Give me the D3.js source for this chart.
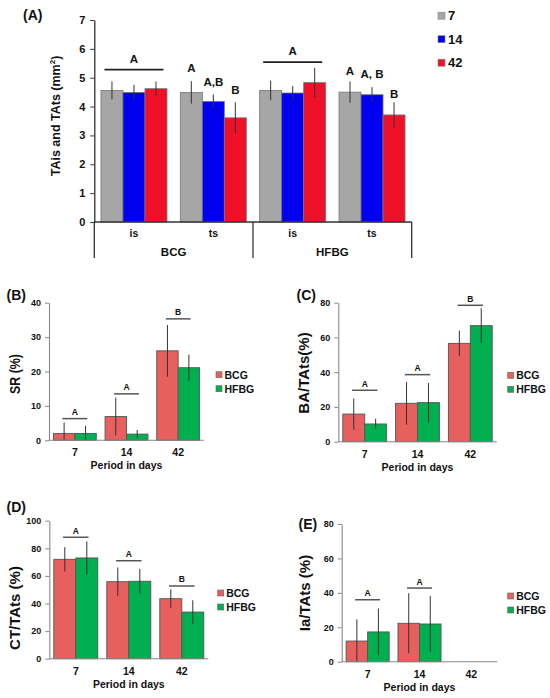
<!DOCTYPE html>
<html><head><meta charset="utf-8">
<script src="https://cdn.jsdelivr.net/npm/d3@7/dist/d3.min.js"></script>
<style>
body{margin:0;background:#fff;}
svg text{font-family:"Liberation Sans",Arial,sans-serif;font-weight:bold;fill:#111;}
</style></head>
<body><svg id="c" width="550" height="698"></svg>
<script>
// ---------- Panel A data ----------
const catA = ["BCG is", "BCG ts", "HFBG is", "HFBG ts"];
const subA = ["is", "ts", "is", "ts"];
const groupA = ["BCG", "HFBG"];
const seriesA = ["7", "14", "42"];
const meanA7 = [4.56, 4.49, 4.56, 4.50];
const sdA7 = [0.31, 0.39, 0.34, 0.37];
const meanA14 = [4.49, 4.18, 4.47, 4.41];
const sdA14 = [0.26, 0.24, 0.24, 0.26];
const meanA42 = [4.62, 3.61, 4.83, 3.71];
const sdA42 = [0.25, 0.54, 0.51, 0.44];
const ticksA = [0, 1, 2, 3, 4, 5, 6, 7];
// group significance (bar + letter) and individual letters
const sigBarA = [{cat: "BCG is", y: 5.28, label: "A"}, {cat: "HFBG is", y: 5.54, label: "A"}];
const sigLetA = [
  {cat: "BCG ts", s: "7", y: 5.34, label: "A"}, {cat: "BCG ts", s: "14", y: 4.85, label: "A,B"}, {cat: "BCG ts", s: "42", y: 4.57, label: "B"},
  {cat: "HFBG ts", s: "7", y: 5.24, label: "A"}, {cat: "HFBG ts", s: "14", y: 5.13, label: "A, B"}, {cat: "HFBG ts", s: "42", y: 4.43, label: "B"}
];

// ---------- Panels B-E data ----------
const periods = ["7", "14", "42"];
const groups = ["BCG", "HFBG"];
const srBCG = [2.0, 6.9, 26.0], srBCGsd = [3.2, 5.5, 7.5];
const srHFBG = [2.0, 1.8, 21.1], srHFBGsd = [2.2, 1.2, 3.8];
const srSig = [6.3, 13.5, 35.3], srLetters = ["A", "A", "B"];
const baBCG = [15.9, 22.1, 56.6], baBCGsd = [9.0, 12.3, 7.4];
const baHFBG = [10.2, 22.5, 66.8], baHFBGsd = [3.0, 11.3, 10.0];
const baSig = [29.6, 38.6, 78.5], baLetters = ["A", "A", "B"];
const ctBCG = [72.0, 55.8, 43.5], ctBCGsd = [8.8, 10.3, 6.8];
const ctHFBG = [73.0, 56.1, 33.8], ctHFBGsd = [12.0, 9.0, 8.6];
const ctSig = [88.0, 71.0, 52.7], ctLetters = ["A", "A", "B"];
const iaBCG = [12.0, 22.3, null], iaBCGsd = [12.6, 17.5, null];
const iaHFBG = [17.3, 21.9, null], iaHFBGsd = [13.6, 16.2, null];
const iaSig = [36.0, 42.8, null], iaLetters = ["A", "A", null];

const svg = d3.select("#c");
const colA = {"7": "#a6a6a6", "14": "#0000f0", "42": "#ee1128"};
const colG = {"BCG": "#e8605e", "HFBG": "#00b050"};

// ================= PANEL A =================
(function () {
  const x0 = 94.3, x1 = 411.7, yb = 222, yt = 20;
  const x = d3.scaleBand().domain(catA).range([x0, x1]).paddingInner(0.168).paddingOuter(0.084);
  const xs = d3.scaleBand().domain(seriesA).range([0, x.bandwidth()]);
  const y = d3.scaleLinear().domain([0, 7]).range([yb, yt]);
  const g = svg.append("g");
  const means = {"7": meanA7, "14": meanA14, "42": meanA42};
  const sds = {"7": sdA7, "14": sdA14, "42": sdA42};
  const data = [];
  catA.forEach((c, i) => seriesA.forEach(s => data.push({c, s, m: means[s][i], sd: sds[s][i]})));
  g.selectAll("rect.bar").data(data).join("rect")
    .attr("x", d => x(d.c) + xs(d.s)).attr("width", xs.bandwidth())
    .attr("y", d => y(d.m)).attr("height", d => y(0) - y(d.m))
    .attr("fill", d => colA[d.s]).attr("stroke", "#777").attr("stroke-width", 0.8);
  g.selectAll("line.err").data(data).join("line")
    .attr("x1", d => x(d.c) + xs(d.s) + xs.bandwidth() / 2).attr("x2", d => x(d.c) + xs(d.s) + xs.bandwidth() / 2)
    .attr("y1", d => y(d.m + d.sd)).attr("y2", d => y(d.m - d.sd))
    .attr("stroke", "#333").attr("stroke-width", 1);
  // y axis
  const ax = g.append("g").attr("transform", `translate(${x0},0)`)
    .call(d3.axisLeft(y).tickValues(ticksA).tickSize(4).tickSizeOuter(0).tickFormat(d3.format("d")));
  ax.select(".domain").attr("stroke", "#333").attr("stroke-width", 1.3);
  ax.selectAll(".tick line").attr("stroke", "#333");
  ax.selectAll(".tick text").attr("font-size", 11).attr("x", -9).style("font-family", "Liberation Sans, Arial").style("font-weight", "bold");
  // x axis line + separators
  g.append("line").attr("x1", x0).attr("x2", x1).attr("y1", yb).attr("y2", yb).attr("stroke", "#333").attr("stroke-width", 1.3);
  [x0, (x(catA[1]) + x.bandwidth() + x(catA[2])) / 2, x1].forEach(v =>
    g.append("line").attr("x1", v).attr("x2", v).attr("y1", yb).attr("y2", 258).attr("stroke", "#333").attr("stroke-width", 1.3));
  catA.forEach((c, i) => g.append("text").attr("x", x(c) + x.bandwidth() / 2).attr("y", 237)
    .attr("text-anchor", "middle").attr("font-size", 10.5).text(subA[i]));
  groupA.forEach((gr, i) => {
    const cx = (x(catA[2 * i]) + x(catA[2 * i + 1]) + x.bandwidth()) / 2;
    g.append("text").attr("x", cx).attr("y", 256).attr("text-anchor", "middle").attr("font-size", 11.5).text(gr);
  });
  // y title
  const t = g.append("text").attr("transform", "translate(60,116) rotate(-90)").attr("text-anchor", "middle").attr("font-size", 12.5);
  t.append("tspan").text("TAis and TAts (mm");
  t.append("tspan").attr("font-size", 8).attr("dy", -5).text("2");
  t.append("tspan").attr("dy", 5).text(")");
  // significance
  sigBarA.forEach(d => {
    g.append("line").attr("x1", x(d.cat) + 3.5).attr("x2", x(d.cat) + x.bandwidth() - 3.5)
      .attr("y1", y(d.y)).attr("y2", y(d.y)).attr("stroke", "#222").attr("stroke-width", 1.6);
    g.append("text").attr("x", x(d.cat) + x.bandwidth() / 2).attr("y", y(d.y) - 7)
      .attr("text-anchor", "middle").attr("font-size", 11.5).text(d.label);
  });
  sigLetA.forEach(d => g.append("text").attr("x", x(d.cat) + xs(d.s) + xs.bandwidth() / 2).attr("y", y(d.y) + 4)
    .attr("text-anchor", "middle").attr("font-size", 11.5).text(d.label));
  // legend
  seriesA.forEach((s, i) => {
    const ly = 15.7 + i * 23.5;
    g.append("rect").attr("x", 438).attr("y", ly - 3.5).attr("width", 7).attr("height", 7)
      .attr("fill", colA[s]).attr("stroke", "#888").attr("stroke-width", 0.6);
    g.append("text").attr("x", 448).attr("y", ly + 4.6).attr("font-size", 13).text(s);
  });
  g.append("text").attr("x", 23).attr("y", 20).attr("font-size", 14).text("(A)");
})();

// ================= PANELS B-E =================
function panel(o) {
  const g = svg.append("g");
  const x = d3.scaleBand().domain(periods).range([o.x0, o.x1]).paddingInner(0.17).paddingOuter(0.085);
  const xs = d3.scaleBand().domain(groups).range([0, x.bandwidth()]);
  const y = d3.scaleLinear().domain([0, o.max]).range([o.yb, o.yt]);
  const data = [];
  periods.forEach((p, i) => {
    data.push({p, gr: "BCG", m: o.bcg[i], sd: o.bcgSd[i]});
    data.push({p, gr: "HFBG", m: o.hfbg[i], sd: o.hfbgSd[i]});
  });
  const valid = data.filter(d => d.m != null);
  g.selectAll("rect").data(valid).join("rect")
    .attr("x", d => x(d.p) + xs(d.gr)).attr("width", xs.bandwidth())
    .attr("y", d => y(d.m)).attr("height", d => y(0) - y(d.m))
    .attr("fill", d => colG[d.gr]).attr("stroke", "#555").attr("stroke-width", 0.9);
  g.selectAll("line.err").data(valid).join("line").attr("class", "err")
    .attr("x1", d => x(d.p) + xs(d.gr) + xs.bandwidth() / 2).attr("x2", d => x(d.p) + xs(d.gr) + xs.bandwidth() / 2)
    .attr("y1", d => y(d.m + d.sd)).attr("y2", d => y(Math.max(0, d.m - d.sd)))
    .attr("stroke", "#333").attr("stroke-width", 1);
  const ax = g.append("g").attr("transform", `translate(${o.x0},0)`)
    .call(d3.axisLeft(y).tickValues(d3.range(0, o.max + 0.01, o.step)).tickSize(4).tickSizeOuter(0));
  ax.select(".domain").attr("stroke", "#888").attr("stroke-width", 1.1);
  ax.selectAll(".tick line").attr("stroke", "#888");
  ax.selectAll(".tick text").attr("font-size", 9).attr("x", -8).style("font-family", "Liberation Sans, Arial").style("font-weight", "bold");
  g.append("line").attr("x1", o.x0).attr("x2", o.x1).attr("y1", o.yb).attr("y2", o.yb).attr("stroke", "#888").attr("stroke-width", 1.1);
  periods.forEach(p => g.append("text").attr("x", x(p) + x.bandwidth() / 2).attr("y", o.yb + 16)
    .attr("text-anchor", "middle").attr("font-size", 10.5).text(p));
  g.append("text").attr("x", (o.x0 + o.x1) / 2).attr("y", o.yb + 29).attr("text-anchor", "middle").attr("font-size", 10.5).text("Period in days");
  // significance
  periods.forEach((p, i) => {
    if (o.sig[i] == null) return;
    const cx = x(p) + x.bandwidth() / 2, hw = x.step() * 0.24;
    g.append("line").attr("x1", cx - hw).attr("x2", cx + hw).attr("y1", y(o.sig[i])).attr("y2", y(o.sig[i]))
      .attr("stroke", "#555").attr("stroke-width", 1.5);
    g.append("text").attr("x", cx).attr("y", y(o.sig[i]) - 3.5).attr("text-anchor", "middle").attr("font-size", 8.5).text(o.letters[i]);
  });
  // legend
  groups.forEach((gr, i) => {
    const ly = o.ly + i * 14;
    g.append("rect").attr("x", o.lx).attr("y", ly - 3).attr("width", 6).attr("height", 6)
      .attr("fill", colG[gr]).attr("stroke", "#666").attr("stroke-width", 0.6);
    g.append("text").attr("x", o.lx + 8.5).attr("y", ly + 3.8).attr("font-size", 10.5).text(gr);
  });
  // y title
  const tt = g.append("text").attr("transform", `translate(${o.tx},${o.ty}) rotate(-90)`).attr("text-anchor", "middle")
    .attr("font-size", 15).text(o.title);
  if (o.tlen) tt.attr("textLength", o.tlen).attr("lengthAdjust", "spacingAndGlyphs");
  g.append("text").attr("x", o.px).attr("y", o.py).attr("font-size", 14).text(o.label);
}

panel({x0: 49, x1: 204, yb: 440.3, yt: 302.7, max: 40, step: 10, bcg: srBCG, bcgSd: srBCGsd, hfbg: srHFBG, hfbgSd: srHFBGsd,
  sig: srSig, letters: srLetters, lx: 216, ly: 374.7, title: "SR (%)", tx: 20, ty: 374, tlen: 40, label: "(B)", px: 6.5, py: 300});
panel({x0: 338.3, x1: 496.7, yb: 441.7, yt: 302.7, max: 80, step: 20, bcg: baBCG, bcgSd: baBCGsd, hfbg: baHFBG, hfbgSd: baHFBGsd,
  sig: baSig, letters: baLetters, lx: 507.7, ly: 375.3, title: "BA/TAts(%)", tx: 309, ty: 373, label: "(C)", px: 296.5, py: 300});
panel({x0: 49.3, x1: 208.3, yb: 658.7, yt: 520.7, max: 100, step: 20, bcg: ctBCG, bcgSd: ctBCGsd, hfbg: ctHFBG, hfbgSd: ctHFBGsd,
  sig: ctSig, letters: ctLetters, lx: 217.7, ly: 593, title: "CT/TAts (%)", tx: 20, ty: 608, label: "(D)", px: 6.5, py: 512});
panel({x0: 341.7, x1: 497.3, yb: 661.7, yt: 524, max: 80, step: 20, bcg: iaBCG, bcgSd: iaBCGsd, hfbg: iaHFBG, hfbgSd: iaHFBGsd,
  sig: iaSig, letters: iaLetters, lx: 507.7, ly: 596, title: "Ia/TAts (%)", tx: 310, ty: 593, label: "(E)", px: 298.5, py: 529});
</script></body></html>
